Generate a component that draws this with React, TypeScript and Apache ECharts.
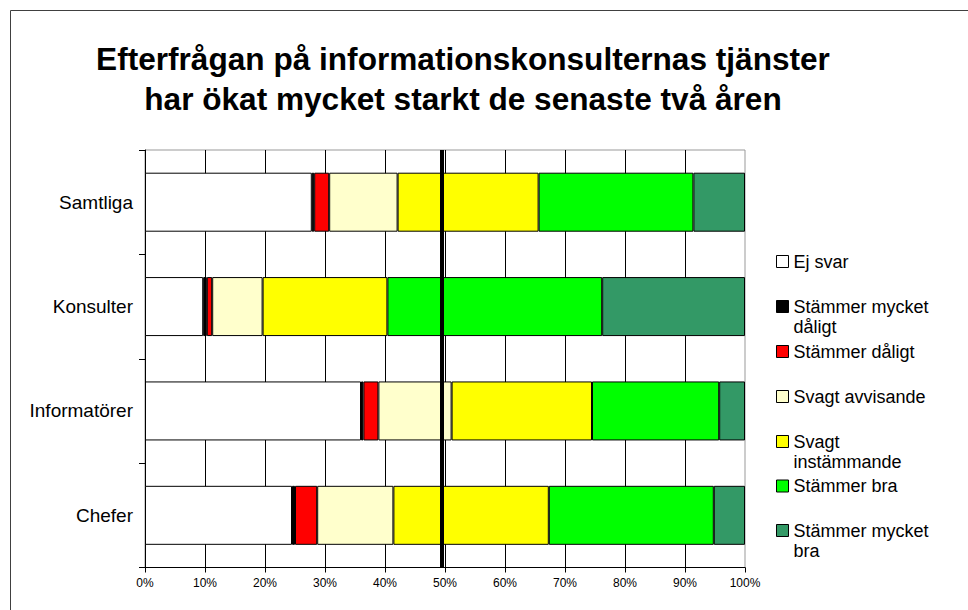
import React, { useEffect, useRef } from "react";
import * as echarts from "echarts";

const categories = ["Samtliga", "Konsulter", "Informatörer", "Chefer"];
const seriesNames = [
  "Ej svar",
  "Stämmer mycket dåligt",
  "Stämmer dåligt",
  "Svagt avvisande",
  "Svagt instämmande",
  "Stämmer bra",
  "Stämmer mycket bra",
];
const legendLabels = [
  "Ej svar",
  "Stämmer mycket\ndåligt",
  "Stämmer dåligt",
  "Svagt avvisande",
  "Svagt\ninstämmande",
  "Stämmer bra",
  "Stämmer mycket\nbra",
];
const ejSvar = [27.8, 9.7, 36.0, 24.5];
const mycketDaligt = [0.4, 0.6, 0.4, 0.5];
const daligt = [2.5, 0.9, 2.5, 3.7];
const svagtAvvisande = [11.4, 8.4, 12.2, 12.7];
const svagtInstammande = [23.5, 20.8, 23.4, 25.9];
const bra = [25.8, 35.8, 21.2, 27.5];
const mycketBra = [8.6, 23.8, 4.3, 5.2];
const seriesData = [ejSvar, mycketDaligt, daligt, svagtAvvisande, svagtInstammande, bra, mycketBra];
const colors = ["#FFFFFF", "#000000", "#FF0000", "#FFFFCC", "#FFFF00", "#00FF00", "#339966"];
const xTicks = [0, 10, 20, 30, 40, 50, 60, 70, 80, 90, 100];
const midLine = 49.5;

const FONT = "'Liberation Sans', Arial, sans-serif";

export default function App() {
  const ref = useRef<HTMLDivElement>(null);
  useEffect(() => {
    if (!ref.current) return;
    const chart = echarts.init(ref.current, null, { renderer: "svg" });
    const iconCenters = [261.5, 306.5, 351.5, 396.5, 441.5, 486, 530.5];
    const option: any = {
      animation: false,
      backgroundColor: "#FFFFFF",
      textStyle: { fontFamily: FONT },
      title: {
        text: "Efterfrågan på informationskonsulternas tjänster\nhar ökat mycket starkt de senaste två åren",
        left: 463,
        top: 39,
        textAlign: "center",
        padding: 0,
        textStyle: {
          fontFamily: FONT,
          fontSize: 31.6,
          fontWeight: "bold",
          color: "#000",
          lineHeight: 40,
        },
      },
      graphic: [
        {
          type: "rect",
          silent: true,
          shape: { x: 10.5, y: 10.5, width: 1200, height: 1200 },
          style: { fill: "none", stroke: "#404040", lineWidth: 1 },
        },
      ],
      legend: seriesNames.map((n, i) => {
        const twoLine = legendLabels[i].includes("\n");
        return {
          data: [n],
          left: 776,
          top: iconCenters[i] - (twoLine ? 30 : 10),
          padding: 0,
          itemWidth: 12,
          itemHeight: 12,
          itemGap: 0,
          selectedMode: false,
          icon: "rect",
          formatter: () => (twoLine ? "\n" + legendLabels[i] : legendLabels[i]),
          itemStyle: { borderColor: "#000", borderWidth: 1 },
          textStyle: {
            fontFamily: FONT,
            fontSize: 18,
            color: "#000",
            lineHeight: 20,
          },
        };
      }),
      grid: {
        left: 145,
        right: 223,
        top: 150,
        bottom: 42.5,
        show: true,
        borderColor: "#999",
        borderWidth: 1,
        containLabel: false,
      },
      xAxis: {
        type: "value",
        min: 0,
        max: 100,
        interval: 10,
        axisLine: { show: true, lineStyle: { color: "#000", width: 1 } },
        axisTick: { show: true, length: 5, lineStyle: { color: "#000" } },
        axisLabel: {
          formatter: (v: number) => (xTicks.includes(v) ? v + "%" : ""),
          fontFamily: FONT,
          fontSize: 12,
          color: "#000",
          margin: 9,
        },
        splitLine: { show: true, showMaxLine: false, lineStyle: { color: "#000", width: 1 } },
      },
      yAxis: {
        type: "category",
        inverse: true,
        data: categories,
        axisLine: { show: true, lineStyle: { color: "#000", width: 1 } },
        axisTick: { show: true, length: 6, alignWithLabel: false, lineStyle: { color: "#000" } },
        axisLabel: { fontFamily: FONT, fontSize: 19, color: "#000", margin: 12 },
        splitLine: { show: false },
      },
      series: seriesNames.map((n, i) => ({
        name: n,
        type: "bar",
        stack: "total",
        barWidth: 59,
        data: seriesData[i],
        itemStyle: { color: colors[i], borderColor: "#000", borderWidth: 1 },
        emphasis: { disabled: true },
        ...(i === seriesNames.length - 1
          ? {
              markLine: {
                silent: true,
                symbol: "none",
                label: { show: false },
                lineStyle: { color: "#000", width: 4, type: "solid" },
                data: [{ xAxis: midLine }],
              },
            }
          : {}),
      })),
    };
    chart.setOption(option);
    return () => chart.dispose();
  }, []);
  return (
    <div
      style={{ position: "fixed", left: 0, top: 0, width: 968, height: 610, overflow: "hidden", background: "#fff" }}
    >
      <div ref={ref} style={{ width: 968, height: 610 }} />
    </div>
  );
}
